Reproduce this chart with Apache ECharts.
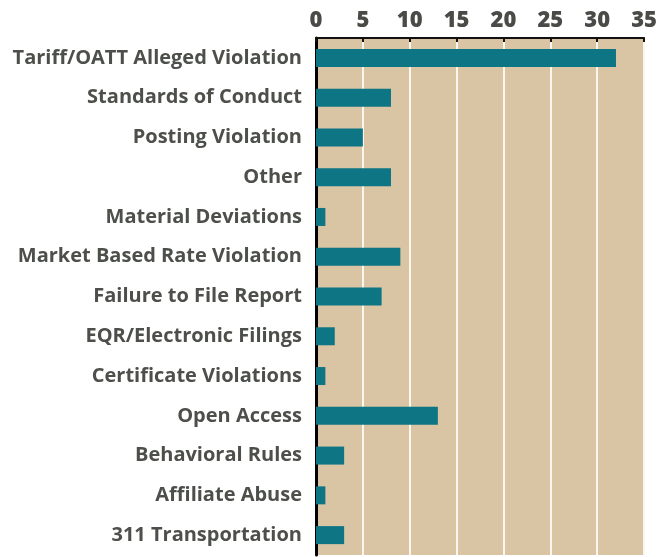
<!DOCTYPE html>
<html>
<head>
<meta charset="utf-8">
<script src="https://cdn.jsdelivr.net/npm/echarts@6/dist/echarts.min.js"></script>
<style>
    html, body { margin: 0; padding: 0; background: #fff; }
    #chart { width: 660px; height: 557px; }
</style>
</head>
<body>
<div id="chart"></div>
<script>
// 违规类型
const categories = [
    'Tariff/OATT Alleged Violation',
    'Standards of Conduct',
    'Posting Violation',
    'Other',
    'Material Deviations',
    'Market Based Rate Violation',
    'Failure to File Report',
    'EQR/Electronic Filings',
    'Certificate Violations',
    'Open Access',
    'Behavioral Rules',
    'Affiliate Abuse',
    '311 Transportation'
];
const counts = [32, 8, 5, 8, 1, 9, 7, 2, 1, 13, 3, 1, 3];
const ticks = [0, 5, 10, 15, 20, 25, 30, 35];

let myChart = echarts.init(document.getElementById('chart'));
myChart.setOption({
    animation: false,
    grid: {
        left: 316,
        right: 11,
        top: 38,
        bottom: 2
    },
    xAxis: {
        type: 'value',
        position: 'top',
        min: ticks[0],
        max: ticks[ticks.length - 1],
        interval: 5,
        axisLine: {
            show: true,
            lineStyle: { color: '#111', width: 2 }
        },
        axisTick: {
            show: true,
            inside: true,
            length: 4,
            lineStyle: { color: '#111', width: 2 }
        },
        axisLabel: {
            color: '#4a4b46',
            fontFamily: 'Open Sans',
            fontWeight: 800,
            fontSize: 22,
            margin: 6
        },
        splitLine: {
            show: true,
            lineStyle: { color: '#fbf6ee', width: 2 }
        }
    },
    yAxis: {
        type: 'category',
        inverse: true,
        data: categories,
        axisLine: {
            show: true,
            lineStyle: { color: '#000', width: 3 }
        },
        axisTick: { show: false },
        axisLabel: {
            color: '#4d4f4a',
            fontFamily: 'Open Sans',
            fontWeight: 'bold',
            fontSize: 20,
            margin: 14
        },
        splitArea: {
            show: true,
            areaStyle: { color: ['#d9c4a3'] }
        }
    },
    series: [{
        type: 'bar',
        data: counts,
        barWidth: 18,
        itemStyle: { color: '#0e7585' }
    }]
});
</script>
</body>
</html>
